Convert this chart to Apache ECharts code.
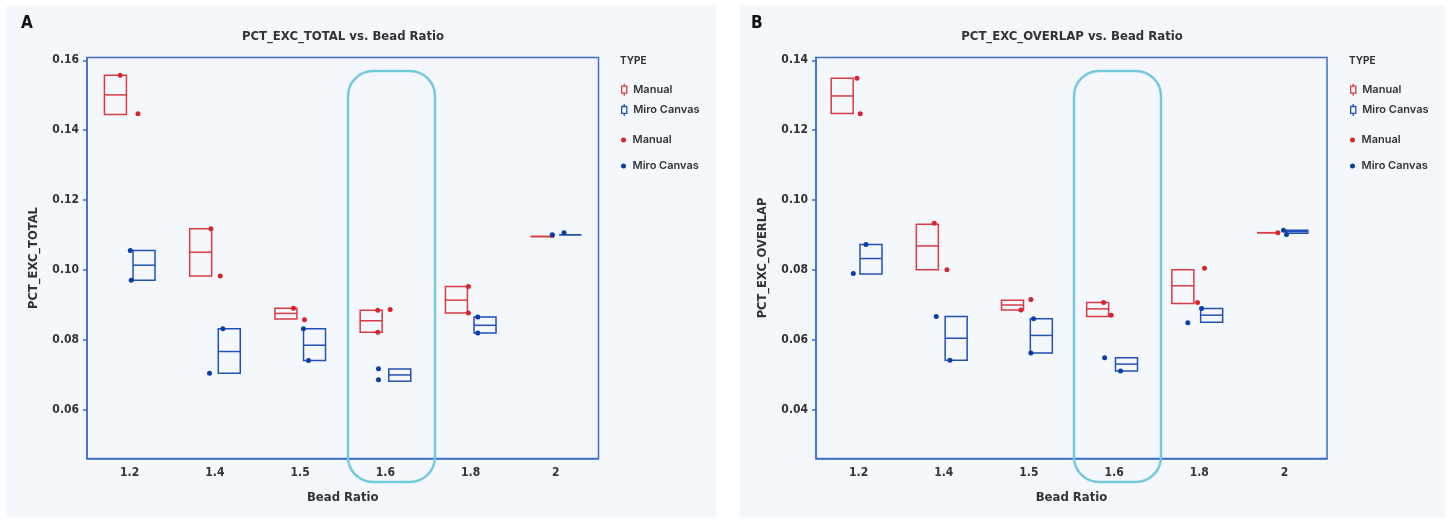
<!DOCTYPE html>
<html>
<head>
<meta charset="utf-8">
<script src="https://cdn.jsdelivr.net/npm/echarts@6/dist/echarts.min.js"></script>
<style>
html,body{margin:0;padding:0;background:#ffffff;}
#chart{width:1450px;height:524px;}
</style>
</head>
<body>
<div id="chart"></div>
<script>
// ---------- DATA ----------
const categories = ['1.2', '1.4', '1.5', '1.6', '1.8', '2'];
const yTicksA = [0.06, 0.08, 0.10, 0.12, 0.14, 0.16];
const yTicksB = [0.04, 0.06, 0.08, 0.10, 0.12, 0.14];

// box stats per category: [low, median, high]
const boxA_Manual = [[0.1445, 0.1501, 0.1557], [0.0983, 0.1051, 0.1118], [0.0860, 0.0876, 0.0891], [0.0822, 0.0855, 0.0885], [0.0877, 0.0914, 0.0953], [0.1096, 0.1096, 0.1096]];
const boxA_Miro   = [[0.0971, 0.1014, 0.1056], [0.0705, 0.0767, 0.0832], [0.0741, 0.0785, 0.0832], [0.0682, 0.0700, 0.0717], [0.0820, 0.0842, 0.0866], [0.1101, 0.1101, 0.1101]];
const boxB_Manual = [[0.1248, 0.1298, 0.1349], [0.0801, 0.0869, 0.0931], [0.0686, 0.0700, 0.0714], [0.0667, 0.0689, 0.0707], [0.0704, 0.0755, 0.0801], [0.0907, 0.0907, 0.0907]];
const boxB_Miro   = [[0.0789, 0.0833, 0.0873], [0.0542, 0.0605, 0.0667], [0.0563, 0.0613, 0.0661], [0.0511, 0.0531, 0.0549], [0.0651, 0.0671, 0.0690], [0.0905, 0.0910, 0.0914]];

// individual points: [category index, jitter (category units), value]
const ptsA_Manual = [[0, -0.110, 0.1557], [0, 0.098, 0.1447], [1, -0.046, 0.1118], [1, 0.063, 0.0983], [2, -0.078, 0.0891], [2, 0.051, 0.0858], [3, -0.089, 0.0885], [3, -0.089, 0.0822], [3, 0.056, 0.0887], [4, -0.026, 0.0953], [4, -0.026, 0.0877], [5, -0.042, 0.1099]];
const ptsA_Miro   = [[0, 0.008, 0.1056], [0, 0.019, 0.0971], [1, 0.094, 0.0832], [1, -0.063, 0.0705], [2, 0.039, 0.0832], [2, 0.098, 0.0741], [3, -0.081, 0.0718], [3, -0.081, 0.0686], [4, 0.084, 0.0866], [4, 0.084, 0.0820], [5, -0.042, 0.1101], [5, 0.096, 0.1107]];
const ptsB_Manual = [[0, -0.019, 0.1349], [0, 0.020, 0.1247], [1, -0.112, 0.0934], [1, 0.038, 0.0801], [2, 0.023, 0.0716], [2, -0.094, 0.0686], [3, -0.123, 0.0707], [3, -0.034, 0.0671], [4, 0.062, 0.0805], [4, -0.020, 0.0707], [5, -0.077, 0.0907]];
const ptsB_Miro   = [[0, 0.087, 0.0873], [0, -0.062, 0.0790], [1, -0.088, 0.0667], [1, 0.073, 0.0542], [2, 0.055, 0.0661], [2, 0.023, 0.0563], [3, -0.111, 0.0549], [3, 0.076, 0.0511], [4, 0.027, 0.0690], [4, -0.134, 0.0649], [5, -0.011, 0.0914], [5, 0.025, 0.0902]];

// ---------- STYLE ----------
const RED_BOX = '#d93a43', BLUE_BOX = '#2152b3';
const RED_PT = '#d52630', BLUE_PT = '#0a3ea6';
const AXIS = '#3d6dc5';
const TXT = '#333333';
const COND = "'Liberation Sans Narrow','DejaVu Sans Condensed','Roboto Condensed',Roboto,sans-serif";
const LEG = "Inter,'Noto Sans',sans-serif";

function boxRender(offsetPx, widthPx, color) {
  return function (params, api) {
    const c = api.value(0);
    const pLo = api.coord([c, api.value(1)]);
    const pMed = api.coord([c, api.value(2)]);
    const pHi = api.coord([c, api.value(3)]);
    const x = pLo[0] + offsetPx - widthPx / 2;
    return {
      type: 'group',
      children: [
        { type: 'rect', shape: { x: x, y: pHi[1], width: widthPx, height: pLo[1] - pHi[1] },
          style: { fill: 'none', stroke: color, lineWidth: 1.5 } },
        { type: 'line', shape: { x1: x, y1: pMed[1], x2: x + widthPx, y2: pMed[1] },
          style: { stroke: color, lineWidth: 1.5 } }
      ]
    };
  };
}
const toBox = arr => arr.map((b, i) => [i, b[0], b[1], b[2]]);
const toPts = arr => arr.map(p => [p[0] + p[1], p[2]]);

function catAxis(gridIndex) {
  return {
    type: 'category', gridIndex: gridIndex, data: categories,
    name: 'Bead Ratio', nameLocation: 'middle', nameGap: 33,
    nameTextStyle: { fontFamily: COND, fontWeight: 'bold', fontSize: 13, color: TXT },
    axisLine: { onZero: false, lineStyle: { color: AXIS, width: 1.5 } },
    axisTick: { show: false },
    axisLabel: { margin: 8, fontFamily: COND, fontWeight: 'bold', fontSize: 12, color: TXT },
    splitLine: { show: false }
  };
}
function hiddenX(gridIndex) {
  return { type: 'value', gridIndex: gridIndex, min: -0.5, max: categories.length - 0.5, show: false,
    axisLine: { show: false, onZero: false }, splitLine: { show: false } };
}
function yAxis(gridIndex, name, min, max, ticks) {
  return {
    type: 'value', gridIndex: gridIndex, min: min, max: max,
    name: name, nameLocation: 'middle', nameGap: 47,
    nameTextStyle: { fontFamily: "'DejaVu Sans',sans-serif", fontWeight: 'bold', fontSize: 11.5, color: TXT },
    axisLine: { show: true, onZero: false, lineStyle: { color: AXIS, width: 1.5 } },
    axisTick: { show: true, length: 4, customValues: ticks, lineStyle: { color: AXIS, width: 1.5 } },
    axisLabel: { margin: 8, customValues: ticks, formatter: v => v.toFixed(2),
      fontFamily: COND, fontWeight: 'bold', fontSize: 12, color: TXT },
    splitLine: { show: false }
  };
}
const boxIcon = 'path://M4,0 L4,3 M1,3 L7,3 L7,11 L1,11 Z M4,11 L4,14';
function legends(left) {
  return [
    { left: left, top: 83, orient: 'vertical', padding: 0, itemGap: 7, itemWidth: 8, itemHeight: 12,
      selectedMode: false,
      textStyle: { fontFamily: LEG, fontWeight: 600, fontSize: 11, color: TXT },
      data: [
        { name: 'Manual', icon: boxIcon, itemStyle: { color: 'rgba(0,0,0,0)', borderColor: RED_BOX, borderWidth: 1.3 } },
        { name: 'Miro Canvas', icon: boxIcon, itemStyle: { color: 'rgba(0,0,0,0)', borderColor: BLUE_BOX, borderWidth: 1.3 } }
      ] },
    { left: left, top: 134.5, orient: 'vertical', padding: 0, itemGap: 15, itemWidth: 8, itemHeight: 5,
      selectedMode: false,
      textStyle: { fontFamily: LEG, fontWeight: 600, fontSize: 11, color: TXT },
      data: [
        { name: 'Manual', icon: 'circle', itemStyle: { color: RED_PT, borderWidth: 0 } },
        { name: 'Miro Canvas', icon: 'circle', itemStyle: { color: BLUE_PT, borderWidth: 0 } }
      ] }
  ];
}
function boxSeries(name, data, xi, yi, off, color) {
  return { type: 'custom', name: name, xAxisIndex: xi, yAxisIndex: yi, data: toBox(data),
    encode: { x: 0, y: [1, 2, 3] }, itemStyle: { color: color }, renderItem: boxRender(off, 22, color), z: 2 };
}
function ptSeries(name, data, xi, yi, color, z) {
  return { type: 'scatter', name: name, xAxisIndex: xi, yAxisIndex: yi, data: toPts(data),
    symbolSize: 5, itemStyle: { color: color, opacity: 1 }, z: z };
}

const chart = echarts.init(document.getElementById('chart'), null, { renderer: 'canvas' });
const option = {
  animation: false,
  grid: [
    { left: 87, top: 57.5, width: 511.5, height: 401, show: true, borderColor: AXIS, borderWidth: 1.5, backgroundColor: 'transparent' },
    { left: 816, top: 57.5, width: 511, height: 401, show: true, borderColor: AXIS, borderWidth: 1.5, backgroundColor: 'transparent' }
  ],
  xAxis: [catAxis(0), hiddenX(0), catAxis(1), hiddenX(1)],
  yAxis: [
    yAxis(0, 'PCT_EXC_TOTAL', 0.0461, 0.1608, yTicksA),
    yAxis(1, 'PCT_EXC_OVERLAP', 0.0261, 0.1408, yTicksB)
  ],
  legend: legends(621).concat(legends(1350)),
  series: [
    boxSeries('Manual', boxA_Manual, 0, 0, -14.2, RED_BOX),
    boxSeries('Miro Canvas', boxA_Miro, 0, 0, 14.4, BLUE_BOX),
    ptSeries('Manual', ptsA_Manual, 1, 0, RED_PT, 3),
    ptSeries('Miro Canvas', ptsA_Miro, 1, 0, BLUE_PT, 4),
    boxSeries('Manual', boxB_Manual, 2, 1, -16.4, RED_BOX),
    boxSeries('Miro Canvas', boxB_Miro, 2, 1, 12.4, BLUE_BOX),
    ptSeries('Manual', ptsB_Manual, 3, 1, RED_PT, 3),
    ptSeries('Miro Canvas', ptsB_Miro, 3, 1, BLUE_PT, 4)
  ],
  graphic: [
    { type: 'rect', z: -100, silent: true, shape: { x: 6, y: 6, width: 710, height: 512 }, style: { fill: '#f4f8fd' } },
    { type: 'rect', z: -100, silent: true, shape: { x: 740, y: 6, width: 705, height: 512 }, style: { fill: '#f4f8fd' } },
    { type: 'text', x: 21, y: 24, style: { text: 'A', font: "bold 17px 'Liberation Sans Narrow','DejaVu Sans Condensed',sans-serif", fill: '#111', textVerticalAlign: 'middle' } },
    { type: 'text', x: 751, y: 24, style: { text: 'B', font: "bold 17px 'Liberation Sans Narrow','DejaVu Sans Condensed',sans-serif", fill: '#111', textVerticalAlign: 'middle' } },
    { type: 'text', x: 343, y: 37, style: { text: 'PCT_EXC_TOTAL vs. Bead Ratio', font: "bold 13px " + COND, fill: TXT, textAlign: 'center', textVerticalAlign: 'middle' } },
    { type: 'text', x: 1072, y: 37, style: { text: 'PCT_EXC_OVERLAP vs. Bead Ratio', font: "bold 13px " + COND, fill: TXT, textAlign: 'center', textVerticalAlign: 'middle' } },
    { type: 'text', x: 620, y: 61, style: { text: 'TYPE', font: "bold 10px " + LEG, fill: TXT, textVerticalAlign: 'middle' } },
    { type: 'text', x: 1349, y: 61, style: { text: 'TYPE', font: "bold 10px " + LEG, fill: TXT, textVerticalAlign: 'middle' } },
    { type: 'rect', z: 100, silent: true, shape: { x: 348, y: 71, width: 87, height: 411, r: 25 }, style: { fill: 'none', stroke: '#74c9de', lineWidth: 2.5 } },
    { type: 'rect', z: 100, silent: true, shape: { x: 1074, y: 71, width: 87, height: 411, r: 25 }, style: { fill: 'none', stroke: '#74c9de', lineWidth: 2.5 } }
  ]
};
chart.setOption(option);
</script>
</body>
</html>
